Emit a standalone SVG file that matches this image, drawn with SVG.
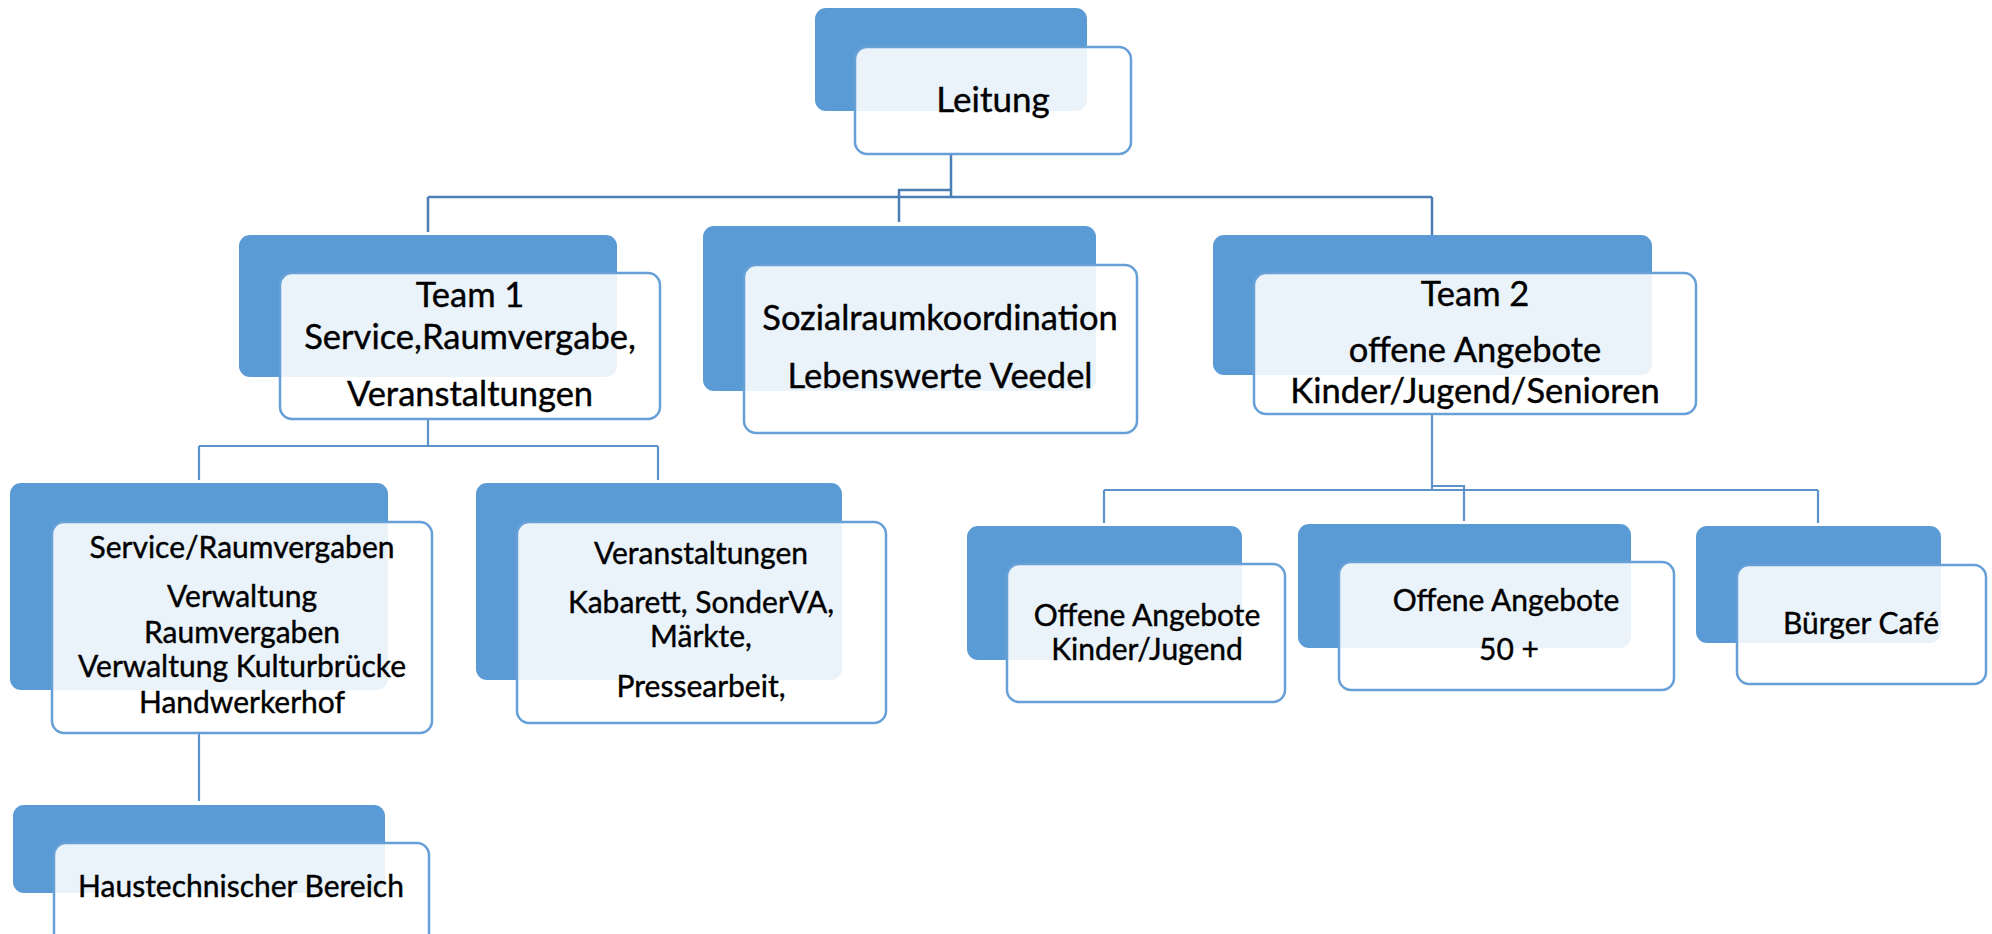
<svg xmlns="http://www.w3.org/2000/svg" width="1992" height="934" viewBox="0 0 1992 934">
<style>
.bk{fill:#5b9bd5;}
.fr{fill:#ffffff;fill-opacity:0.88;stroke:#679fd7;stroke-width:2.5;}
.c{fill:none;stroke:#4a7eb4;stroke-width:2.5;}
.c2{fill:none;stroke:#5d93cc;stroke-width:2.2;}
text{font-family:Lato,"Open Sans","Liberation Sans",sans-serif;fill:#000;stroke:#000;stroke-width:0.4;text-anchor:middle;}
.t0{font-size:35px;}
.t1{font-size:34.5px;}
.t2{font-size:30px;}
</style>
<rect width="1992" height="934" fill="#ffffff"/>
<g id="connectors">
<path class="c" d="M951 154 V197 M428 197 H1432 M428 197 V232 M899 222 V190 H951 M1432 197 V235"/>
<path class="c2" d="M428 419 V446 M199 446 H658 M199 446 V480 M658 446 V480 M199 733 V801"/>
<path class="c2" d="M1432 414 V490 M1104 490 H1818 M1104 490 V523 M1818 490 V523 M1432 486 H1464 V521"/>
</g>
<g id="leitung">
<rect class="bk" x="815" y="8" width="272" height="103" rx="11"/>
<rect class="fr" x="855" y="47" width="276" height="107" rx="12"/>
<text class="t0" x="993" y="112">Leitung</text>
</g>
<g id="team1">
<rect class="bk" x="239" y="235" width="378" height="142" rx="11"/>
<rect class="fr" x="280" y="273" width="380" height="146" rx="12"/>
<text class="t1" x="470" y="307">Team 1</text>
<text class="t1" x="470" y="349">Service,Raumvergabe,</text>
<text class="t1" x="470" y="406">Veranstaltungen</text>
</g>
<g id="sozial">
<rect class="bk" x="703" y="226" width="393" height="165" rx="11"/>
<rect class="fr" x="744" y="265" width="393" height="168" rx="12"/>
<text class="t1" x="940" y="330">Sozialraumkoordination</text>
<text class="t1" x="940" y="388">Lebenswerte Veedel</text>
</g>
<g id="team2">
<rect class="bk" x="1213" y="235" width="439" height="140" rx="11"/>
<rect class="fr" x="1254" y="273" width="442" height="141" rx="12"/>
<text class="t1" x="1475" y="306">Team 2</text>
<text class="t1" x="1475" y="362">offene Angebote</text>
<text class="t1" x="1475" y="403">Kinder/Jugend/Senioren</text>
</g>
<g id="service">
<rect class="bk" x="10" y="483" width="378" height="207" rx="11"/>
<rect class="fr" x="52" y="522" width="380" height="211" rx="12"/>
<text class="t2" x="242" y="558">Service/Raumvergaben</text>
<text class="t2" x="242" y="607">Verwaltung</text>
<text class="t2" x="242" y="643">Raumvergaben</text>
<text class="t2" x="242" y="677">Verwaltung Kulturbrücke</text>
<text class="t2" x="242" y="713">Handwerkerhof</text>
</g>
<g id="veranstaltungen">
<rect class="bk" x="476" y="483" width="366" height="197" rx="11"/>
<rect class="fr" x="517" y="522" width="369" height="201" rx="12"/>
<text class="t2" x="701" y="564">Veranstaltungen</text>
<text class="t2" x="701" y="613">Kabarett, SonderVA,</text>
<text class="t2" x="701" y="647">Märkte,</text>
<text class="t2" x="701" y="697">Pressearbeit,</text>
</g>
<g id="haustechnik">
<rect class="bk" x="13" y="805" width="372" height="88" rx="11"/>
<rect class="fr" x="54" y="843" width="375" height="105" rx="12"/>
<text class="t2" x="241" y="897">Haustechnischer Bereich</text>
</g>
<g id="oa-kinder">
<rect class="bk" x="967" y="526" width="275" height="134" rx="11"/>
<rect class="fr" x="1007" y="564" width="278" height="138" rx="12"/>
<text class="t2" x="1147" y="626">Offene Angebote</text>
<text class="t2" x="1147" y="660">Kinder/Jugend</text>
</g>
<g id="oa-50">
<rect class="bk" x="1298" y="524" width="333" height="124" rx="11"/>
<rect class="fr" x="1339" y="562" width="335" height="128" rx="12"/>
<text class="t2" x="1506" y="611">Offene Angebote</text>
<text class="t2" x="1509" y="660">50 +</text>
</g>
<g id="buerger">
<rect class="bk" x="1696" y="526" width="245" height="117" rx="11"/>
<rect class="fr" x="1737" y="565" width="249" height="119" rx="12"/>
<text class="t2" x="1861" y="634">Bürger Café</text>
</g>
</svg>
